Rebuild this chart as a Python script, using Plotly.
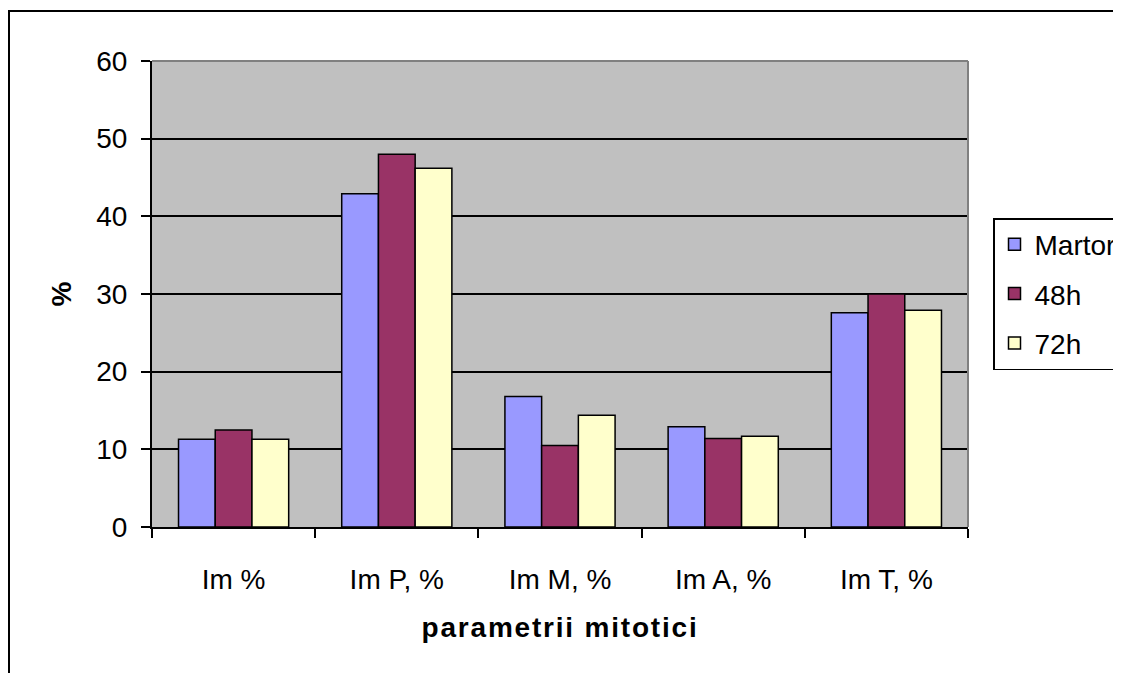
import plotly.graph_objects as go

categories = ["Im %", "Im P, %", "Im M, %", "Im A, %", "Im T, %"]
martor = [11.3, 42.9, 16.8, 12.9, 27.6]
h48 = [12.5, 48.0, 10.5, 11.4, 30.0]
h72 = [11.3, 46.2, 14.4, 11.7, 27.9]
series_names = ["Martor", "48h", "72h"]
colors = ["#9999FF", "#993366", "#FFFFCC"]

FONT = "Arial, Liberation Sans, sans-serif"
FS = 28

fig = go.Figure()
for i, (name, vals, col) in enumerate(zip(series_names, [martor, h48, h72], colors)):
    fig.add_trace(go.Bar(
        x=categories, y=vals, name=name, legendgroup=name,
        marker=dict(color=col, line=dict(color="black", width=1.5)),
    ))

W, H = 1113, 665
L, T = 144, 53
PW, PH = 816, 466

fig.update_layout(
    width=W, height=H,
    margin=dict(l=L, r=W - L - PW, t=T, b=H - T - PH, autoexpand=False),
    paper_bgcolor="white",
    plot_bgcolor="#C0C0C0",
    barmode="group",
    bargap=0.325,
    bargroupgap=0,
    font=dict(family=FONT, size=FS, color="black"),
    showlegend=True,
    legend=dict(
        x=(985 - L) / PW, y=(519 - 210) / PH, xanchor="left", yanchor="top",
        bordercolor="black", borderwidth=1.5, bgcolor="white",
        font=dict(family=FONT, size=FS, color="black"),
        traceorder="grouped", tracegroupgap=10,
        itemwidth=30,
    ),
    xaxis=dict(
        title=dict(text="<b><span style='letter-spacing:1.8px'>parametrii mitotici</span></b>",
                   font=dict(size=FS), standoff=24),
        showline=True, linecolor="black", linewidth=2,
        ticks="outside", ticklen=9, tickwidth=2, tickcolor="black",
        tickson="boundaries",
        showgrid=False,
        ticklabelstandoff=26,
    ),
    yaxis=dict(
        title=dict(text="<b>%</b>", font=dict(size=FS), standoff=16),
        range=[0, 60], dtick=10,
        showline=True, linecolor="black", linewidth=2,
        ticks="outside", ticklen=9, tickwidth=2, tickcolor="black",
        showgrid=True, gridcolor="black", gridwidth=1.5,
        zeroline=False,
        ticklabelstandoff=8,
    ),
)

# plot area border (gray top and right)
fig.add_shape(type="line", xref="paper", yref="paper", x0=0, x1=1, y0=1, y1=1,
              line=dict(color="#808080", width=2), layer="above")
fig.add_shape(type="line", xref="paper", yref="paper", x0=1, x1=1, y0=0, y1=1,
              line=dict(color="#808080", width=2), layer="above")
# outer chart border
fig.add_shape(type="rect", xref="paper", yref="paper",
              x0=(1 - L) / PW, x1=1.4, y0=(T + PH - 3) / PH, y1=-0.5,
              line=dict(color="black", width=2), fillcolor="rgba(0,0,0,0)", layer="above")

fig.write_html("out.html")
